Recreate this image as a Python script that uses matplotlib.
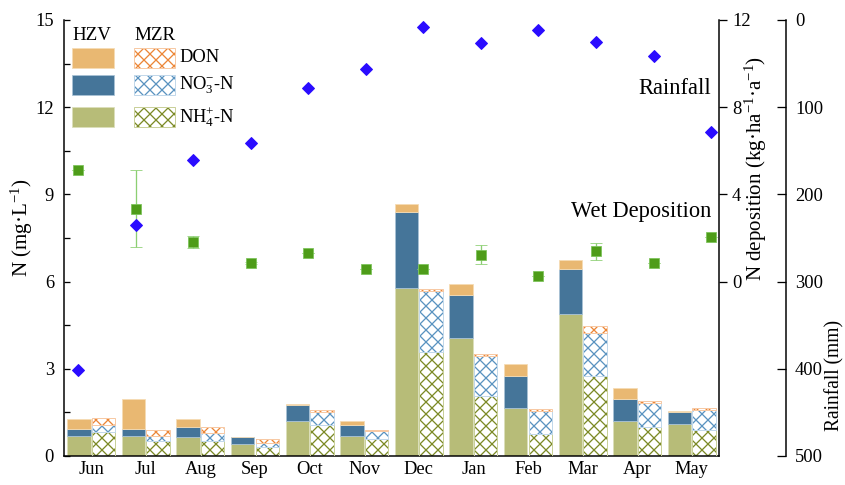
import numpy as np
import matplotlib
matplotlib.use("Agg")
import matplotlib.pyplot as plt
from matplotlib.patches import Rectangle

plt.rcParams["font.family"] = ["Liberation Serif", "DejaVu Serif"]
plt.rcParams["mathtext.fontset"] = "custom"
plt.rcParams["mathtext.rm"] = "Liberation Serif"
plt.rcParams["mathtext.it"] = "Liberation Serif:italic"
plt.rcParams["mathtext.bf"] = "Liberation Serif:bold"
plt.rcParams["hatch.linewidth"] = 1.3

# ---- data -------------------------------------------------------------
months = ["Jun", "Jul", "Aug", "Sep", "Oct", "Nov",
          "Dec", "Jan", "Feb", "Mar", "Apr", "May"]

# HZV site, N species (mg/L)
hzv_nh4 = [0.70, 0.70, 0.67, 0.40, 1.22, 0.70, 5.77, 4.05, 1.64, 4.88, 1.20, 1.09]
hzv_no3 = [0.23, 0.24, 0.34, 0.24, 0.55, 0.37, 2.63, 1.49, 1.11, 1.56, 0.76, 0.43]
hzv_don = [0.33, 1.02, 0.25, 0.00, 0.02, 0.13, 0.27, 0.38, 0.40, 0.30, 0.39, 0.04]

# MZR site, N species (mg/L)
mzr_nh4 = [0.81, 0.53, 0.50, 0.31, 1.07, 0.57, 3.59, 2.06, 0.75, 2.75, 1.01, 0.89]
mzr_no3 = [0.26, 0.16, 0.28, 0.13, 0.45, 0.29, 2.09, 1.38, 0.80, 1.47, 0.82, 0.69]
mzr_don = [0.24, 0.19, 0.21, 0.13, 0.07, 0.03, 0.06, 0.06, 0.06, 0.25, 0.06, 0.06]

# wet N deposition (kg/ha/a) with error, and monthly rainfall (mm)
wet_dep = [5.13, 3.34, 1.83, 0.86, 1.33, 0.58, 0.56, 1.24, 0.27, 1.39, 0.86, 2.06]
wet_err = [0.00, 1.77, 0.27, 0.05, 0.00, 0.00, 0.00, 0.45, 0.00, 0.40, 0.00, 0.00]
rainfall = [401, 235, 161, 141, 78, 56, 8, 26, 12, 25, 41, 129]

# ---- colours ----------------------------------------------------------
c_don, c_no3, c_nh4 = "#e9b872", "#457599", "#b7bc78"
e_don, e_no3, e_nh4 = "#f6dcb4", "#a9c3d6", "#dcdfba"
h_don, h_no3, h_nh4 = "#ec8636", "#5a93c0", "#7c8a26"
l_don, l_no3, l_nh4 = "#f7c9a4", "#c2d8ea", "#c9d09a"

W, H = 845, 485
fig = plt.figure(figsize=(W / 72, H / 72), dpi=72)
rect = [64 / W, 29 / H, 655 / W, 436 / H]
ax = fig.add_axes(rect)

x = np.arange(len(months))
bw = 0.43
off = 0.225

# HZV: solid stacked bars
bottom = np.zeros(len(months))
for vals, fc, ec in [(hzv_nh4, c_nh4, e_nh4), (hzv_no3, c_no3, e_no3),
                     (hzv_don, c_don, e_don)]:
    v = np.array(vals)
    ax.bar(x - off, v, bw, bottom=bottom, color=fc, edgecolor=ec,
           linewidth=0.8, zorder=2)
    bottom += v

# MZR: cross-hatched stacked bars
bottom = np.zeros(len(months))
for vals, hc, lc in [(mzr_nh4, h_nh4, l_nh4), (mzr_no3, h_no3, l_no3),
                     (mzr_don, h_don, l_don)]:
    v = np.array(vals)
    ax.bar(x + off, v, bw, bottom=bottom, facecolor="white", edgecolor=hc,
           hatch="xx", linewidth=0, zorder=2)
    ax.bar(x + off, v, bw, bottom=bottom, fill=False, edgecolor=lc,
           linewidth=1.0, zorder=3)
    bottom += v

ax.set_xlim(-0.5, 11.5)
ax.set_ylim(0, 15)
ax.set_yticks([0, 3, 6, 9, 12, 15])
ax.yaxis.set_minor_locator(matplotlib.ticker.MultipleLocator(1.5))
ax.set_xticks(x)
ax.set_xticklabels(months)
ax.tick_params(axis="x", length=0, pad=5, labelsize=18.5)
ax.tick_params(axis="y", which="both", direction="in", length=6, width=1.3,
               pad=10, labelsize=18.5)
ax.spines["top"].set_visible(False)
for s in ("left", "right", "bottom"):
    ax.spines[s].set_linewidth(1.5)

# N deposition layer (green squares)
ax_dep = fig.add_axes(rect, facecolor="none")
ax_dep.set_xlim(-0.243, 11.138)
ax_dep.set_ylim(-8, 12)
ax_dep.errorbar(x, wet_dep, yerr=wet_err, fmt="s", ms=9.5, color="#4e9c19",
                mec="#7cc35a", mew=0.8, ecolor="#8ccf72", elinewidth=1.3,
                capsize=6, capthick=1.3, zorder=4)
ax_dep.set_xticks([])
for s in ax_dep.spines.values():
    s.set_visible(False)
ax_dep.yaxis.tick_right()
ax_dep.set_yticks([0, 4, 8, 12])
ax_dep.tick_params(axis="y", direction="out", length=8, width=1.3, pad=5,
                   labelsize=18.5)

# Rainfall layer (blue diamonds) on an offset, inverted axis
ax_rain = fig.add_axes(rect, facecolor="none")
ax_rain.set_xlim(-0.243, 11.138)
ax_rain.set_ylim(500, 0)
ax_rain.plot(x, rainfall, "D", ms=9, color="#2a0cff", mec="#2a0cff", zorder=5)
ax_rain.set_xticks([])
for s in ("left", "top", "bottom"):
    ax_rain.spines[s].set_visible(False)
ax_rain.spines["right"].set_position(("axes", (786 - 64) / 655))
ax_rain.spines["right"].set_linewidth(1.5)
ax_rain.yaxis.tick_right()
ax_rain.set_yticks([0, 100, 200, 300, 400, 500])
ax_rain.tick_params(axis="y", direction="in", length=9, width=1.3, pad=9,
                    labelsize=18.5)

# axis titles
fig.text(22 / W, 1 - 228 / H, "N (mg·L$^{-1}$)", rotation=90, ha="center",
         va="center", fontsize=21)
fig.text(756 / W, 1 - 168 / H, "N deposition (kg·ha$^{-1}$·a$^{-1}$)",
         rotation=90, ha="center", va="center", fontsize=21)
fig.text(835 / W, 1 - 375 / H, "Rainfall (mm)", rotation=90, ha="center",
         va="center", fontsize=19.5)

# series annotations
fig.text(711 / W, 1 - 88 / H, "Rainfall", ha="right", va="center",
         fontsize=22.5)
fig.text(711 / W, 1 - 212 / H, "Wet Deposition", ha="right", va="center",
         fontsize=22.5)

# custom two-column legend (HZV solid, MZR hatched)
def px_box(x0, y0, x1, y1):
    return (x0 / W, 1 - y1 / H), (x1 - x0) / W, (y1 - y0) / H

fig.text(72 / W, 1 - 36 / H, "HZV", ha="left", va="center", fontsize=19)
fig.text(134 / W, 1 - 36 / H, "MZR", ha="left", va="center", fontsize=19)
rows = [(48, "DON", c_don, e_don, h_don, l_don),
        (75, "NO$_3^{-}$-N", c_no3, e_no3, h_no3, l_no3),
        (107, "NH$_4^{+}$-N", c_nh4, e_nh4, h_nh4, l_nh4)]
for ytop, lab, fc, ec, hc, lc in rows:
    xy, w_, h_ = px_box(72, ytop, 114, ytop + 20)
    fig.add_artist(Rectangle(xy, w_, h_, transform=fig.transFigure,
                             facecolor=fc, edgecolor=ec, linewidth=0.8))
    xy, w_, h_ = px_box(134, ytop, 175, ytop + 20)
    fig.add_artist(Rectangle(xy, w_, h_, transform=fig.transFigure,
                             facecolor="white", edgecolor=hc, hatch="xx",
                             linewidth=0))
    fig.add_artist(Rectangle(xy, w_, h_, transform=fig.transFigure,
                             fill=False, edgecolor=lc, linewidth=1.0))
    fig.text(179 / W, 1 - (ytop + 10) / H, lab, ha="left", va="center",
             fontsize=18.5)

fig.savefig("out.png", dpi=72)
